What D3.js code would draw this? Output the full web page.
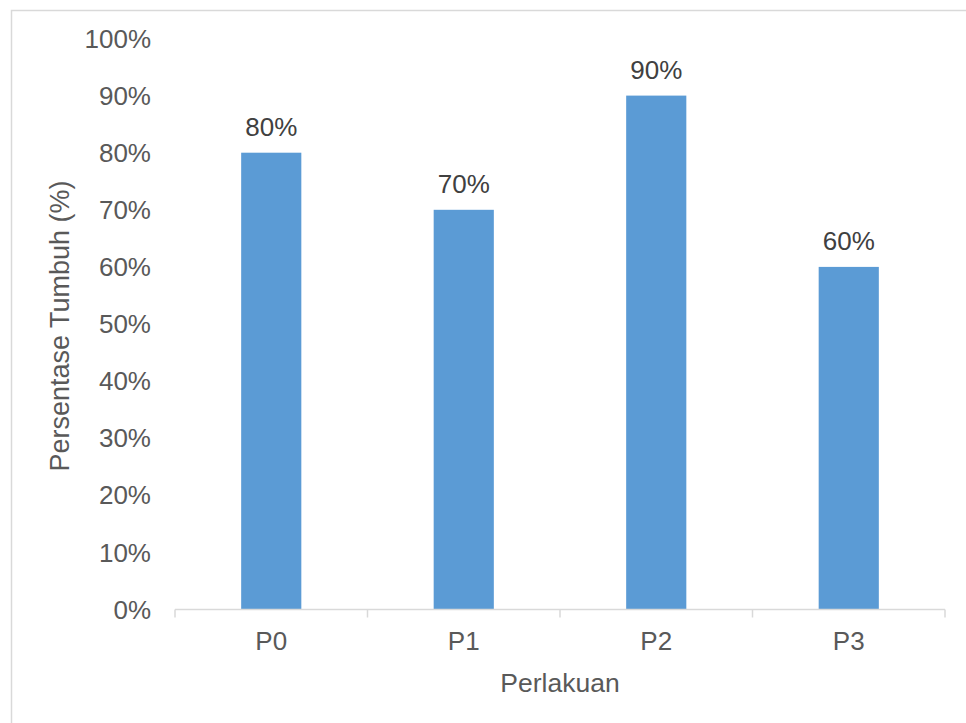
<!DOCTYPE html>
<html><head><meta charset="utf-8">
<script src="https://cdn.jsdelivr.net/npm/d3@7"></script>
<style>body{margin:0;background:#fff}svg{display:block}text{font-family:"Liberation Sans",Arial,sans-serif;fill:#595959}</style>
</head><body><svg id="c" width="966" height="723"></svg>
<script>
const categories = ["P0","P1","P2","P3"];
const values = [0.8,0.7,0.9,0.6];
const yTicks = [0,0.1,0.2,0.3,0.4,0.5,0.6,0.7,0.8,0.9,1.0];
const xTitle = "Perlakuan";
const yTitle = "Persentase Tumbuh (%)";

(function(){
const svg = d3.select("#c");
svg.append("rect").attr("x",11.5).attr("y",10.5).attr("width",970).attr("height",730)
  .attr("fill","#fff").attr("stroke","#d9d9d9").attr("stroke-width",1.5);

const pLeft=175, pRight=945, pTop=38.5, pBottom=609.5;
const x = d3.scaleBand().domain(categories).range([pLeft,pRight]).paddingInner(0.6875).paddingOuter(0.34375);
const y = d3.scaleLinear().domain([0,1]).range([pBottom,pTop]);
const fmt = d3.format(".0%");

svg.selectAll("rect.bar").data(values).join("rect").attr("class","bar")
  .attr("x",(d,i)=>x(categories[i])).attr("width",x.bandwidth())
  .attr("y",d=>y(d)).attr("height",d=>pBottom-y(d)).attr("fill","#5b9bd5");

const xa = svg.append("g").attr("transform",`translate(0,${pBottom})`);
const cat = d3.scaleBand().domain(categories).range([pLeft,pRight]);
xa.append("line").attr("x1",pLeft).attr("x2",pRight).attr("stroke","#d9d9d9").attr("stroke-width",1.5);
const edges = categories.map(c=>cat(c)).concat([pRight]);
xa.selectAll("line.t").data(edges).join("line").attr("class","t")
  .attr("x1",d=>d).attr("x2",d=>d).attr("y1",0).attr("y2",8).attr("stroke","#d9d9d9").attr("stroke-width",1.5);
xa.selectAll("text").data(categories).join("text")
  .attr("x",d=>cat(d)+cat.bandwidth()/2).attr("y",40.5).attr("text-anchor","middle")
  .attr("font-size",26).text(d=>d);

svg.selectAll("text.yt").data(yTicks).join("text").attr("class","yt")
  .attr("x",151).attr("y",d=>y(d)).attr("dy","0.35em").attr("text-anchor","end")
  .attr("font-size",26).text(d=>fmt(d));

svg.selectAll("text.dl").data(values).join("text").attr("class","dl")
  .attr("x",(d,i)=>x(categories[i])+x.bandwidth()/2).attr("y",d=>y(d)-16.5)
  .attr("text-anchor","middle").attr("font-size",26).style("fill","#404040").text(d=>fmt(d));

svg.append("text").attr("x",560).attr("y",691.5).attr("text-anchor","middle").attr("font-size",26.5).text(xTitle);
svg.append("text").attr("transform","translate(69,326) rotate(-90)").attr("text-anchor","middle").attr("font-size",27).text(yTitle);
})();
</script></body></html>
